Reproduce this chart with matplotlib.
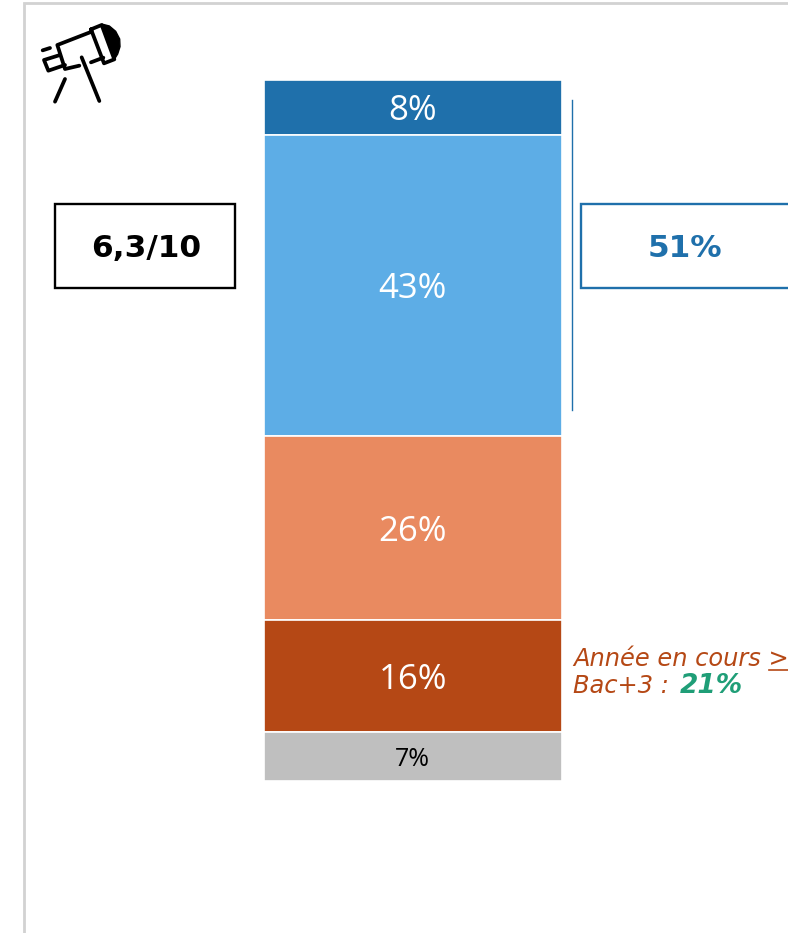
import matplotlib.pyplot as plt
from matplotlib.patches import Rectangle, Polygon

# valeurs de la barre, du haut vers le bas
labels = ['8%', '43%', '26%', '16%', '7%']
values = [7.8, 43.0, 26.3, 16.0, 6.9]
colors = ['#1F70AB', '#5DADE6', '#E98A60', '#B54815', '#BFBFBF']
text_colors = ['white', 'white', 'white', 'white', 'black']
text_sizes = [25, 25, 25, 25, 18]

note_score = '6,3/10'
total_top = '51%'
note_line1 = 'Année en cours >'
note_line2 = 'Bac+3 : '
note_green = '21%'

W, H = 788, 933
fig = plt.figure(figsize=(W / 100, H / 100), dpi=100)

# calque en pixels pour le cadre, les boites et l'icone
bg = fig.add_axes([0, 0, 1, 1])
bg.set_xlim(0, W)
bg.set_ylim(H, 0)
bg.axis('off')

# barre empilee
ax = fig.add_axes([264 / W, 1 - 780.5 / H, 297.5 / W, 700.5 / H])
ax.set_xlim(-0.5, 0.5)
ax.set_ylim(0, 100)
ax.axis('off')
top = 100
for lab, val, col, tc, ts in zip(labels, values, colors, text_colors, text_sizes):
    ax.bar(0, val, width=1, bottom=top - val, color=col, edgecolor='white', linewidth=1.2)
    ax.text(0, top - val / 2, lab, ha='center', va='center_baseline', color=tc, fontsize=ts,
            family='Open Sans')
    top -= val

# cadre gris
bg.plot([24, 24, W], [H, 2.5, 2.5], color='#D2D2D2', lw=2, solid_joinstyle='miter')

# boites
bg.add_patch(Rectangle((55.5, 204), 179.5, 84, fc='white', ec='black', lw=1.7))
bg.text(146, 248.5, note_score, ha='center', va='center', fontsize=22.5, fontweight='bold',
        color='black', family='DejaVu Sans')
bg.add_patch(Rectangle((581, 204), 210, 84, fc='white', ec='#1F70AB', lw=1.7))
bg.text(684.5, 248.5, total_top, ha='center', va='center', fontsize=22.5, fontweight='bold',
        color='#1F70AB', family='DejaVu Sans')
bg.plot([572.5, 572.5], [100, 410], color='#1F70AB', lw=1.0)

# note a droite
bg.text(573, 659, note_line1, ha='left', va='center', fontsize=17.4, fontstyle='italic',
        color='#B54815', family='DejaVu Sans')
bg.plot([769, 788], [669.5, 669.5], color='#B54815', lw=1.2)
bg.text(573, 686, note_line2, ha='left', va='center', fontsize=17.4, fontstyle='italic',
        color='#B54815', family='DejaVu Sans')
bg.text(680, 686, note_green, ha='left', va='center', fontsize=19, fontstyle='italic',
        fontweight='bold', color='#1F9E77', family='DejaVu Sans')


def px(points):
    return [20 + p[0] / 3 for p in points], [p[1] / 3 for p in points]


icon_lines = [
    [(215, 95), (112, 135), (135, 207), (178, 197)],
    [(213, 187), (250, 173)],
    [(120, 165), (72, 180), (85, 212), (135, 195)],
    [(68, 151), (90, 144)],
    [(135, 237), (105, 305)],
    [(185, 172), (238, 303)],
    [(213, 88), (245, 75), (283, 178), (252, 190), (213, 88)],
]
for line in icon_lines:
    xs, ys = px(line)
    bg.plot(xs, ys, color='black', lw=2.7, solid_capstyle='round', solid_joinstyle='round')
xs, ys = px([(245, 72), (268, 78), (287, 94), (299, 117), (300, 140), (293, 162), (283, 178)])
bg.add_patch(Polygon(list(zip(xs, ys)), closed=True, fc='black', ec='black', lw=1))

fig.savefig('out.png', dpi=100)
